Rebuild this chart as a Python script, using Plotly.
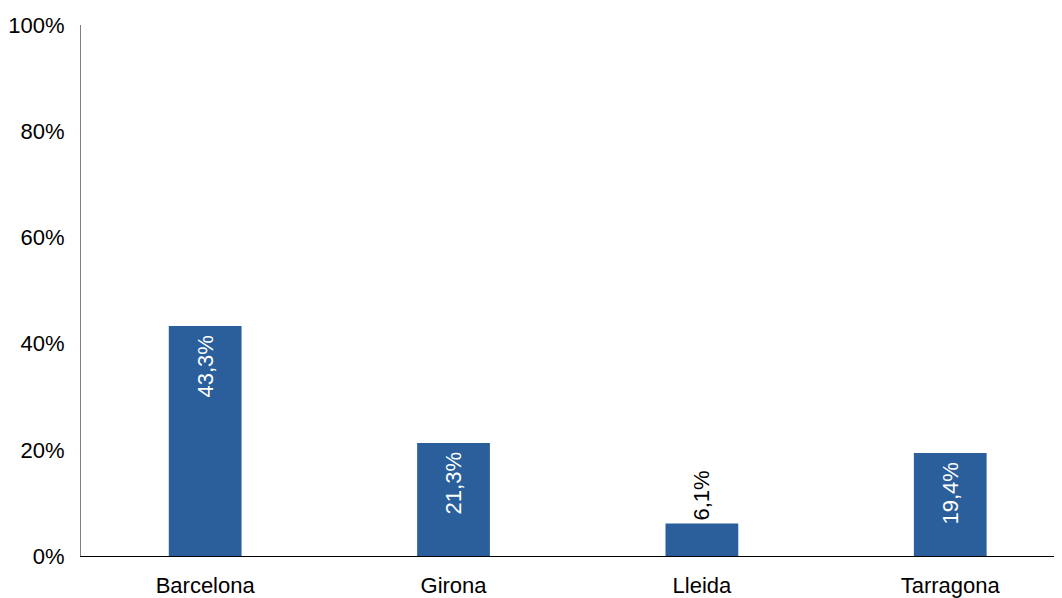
import plotly.graph_objects as go

categories = ["Barcelona", "Girona", "Lleida", "Tarragona"]
values = [43.3, 21.3, 6.1, 19.4]
y_ticks = [0, 20, 40, 60, 80, 100]
y_tick_labels = ["0%", "20%", "40%", "60%", "80%", "100%"]

NBSP = "\u00a0"
labels = [f"{v:.1f}%".replace(".", ",") + (NBSP if v >= 10 else "") for v in values]
positions = ["outside" if v < 10 else "inside" for v in values]

FONT = "Liberation Sans, Arial"

fig = go.Figure(go.Bar(
    x=categories,
    y=values,
    text=labels,
    textposition=positions,
    textangle=-90,
    insidetextanchor="end",
    insidetextfont=dict(color="white", size=22, family=FONT),
    outsidetextfont=dict(color="black", size=22, family=FONT),
    marker=dict(color="#2A5F9C", line=dict(width=0)),
    cliponaxis=False,
))

fig.update_layout(
    width=1054, height=590,
    margin=dict(l=70, r=0, t=17, b=40),
    plot_bgcolor="white", paper_bgcolor="white",
    bargap=0.707,
    showlegend=False,
    font=dict(family=FONT, size=22, color="black"),
)
fig.update_xaxes(
    range=[-0.5, 3.45],
    showline=True, linecolor="black", linewidth=1,
    ticks="", showgrid=False,
    tickfont=dict(size=22),
    ticklabelstandoff=10,
)
fig.update_yaxes(
    range=[0, 100],
    tickvals=y_ticks, ticktext=y_tick_labels,
    showline=True, linecolor="#808080", linewidth=1,
    ticks="", showgrid=False, zeroline=False,
    tickfont=dict(size=22),
    ticklabelstandoff=11,
)

fig.write_html("out.html")
